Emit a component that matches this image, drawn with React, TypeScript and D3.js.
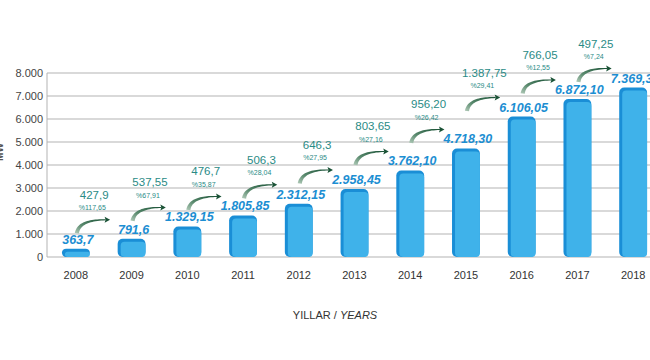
import React from "react";
import * as d3 from "d3";

const years = ["2008", "2009", "2010", "2011", "2012", "2013", "2014", "2015", "2016", "2017", "2018"];
const capacity = [363.7, 791.6, 1329.15, 1805.85, 2312.15, 2958.45, 3762.1, 4718.3, 6106.05, 6872.1, 7369.35];
const capacityLabels = ["363,7", "791,6", "1.329,15", "1.805,85", "2.312,15", "2.958,45", "3.762,10", "4.718,30", "6.106,05", "6.872,10", "7.369,35"];
const increaseLabels = ["427,9", "537,55", "476,7", "506,3", "646,3", "803,65", "956,20", "1.387,75", "766,05", "497,25"];
const percentLabels = ["%117,65", "%67,91", "%35,87", "%28,04", "%27,95", "%27,16", "%26,42", "%29,41", "%12,55", "%7,24"];
const yTicks = [0, 1000, 2000, 3000, 4000, 5000, 6000, 7000, 8000];
const tickLabels = ["0", "1.000", "2.000", "3.000", "4.000", "5.000", "6.000", "7.000", "8.000"];

const W = 650;
const H = 360;
const FONT = "'Liberation Sans', Arial, sans-serif";

function taperedArrow(sx: number, sy: number, ex: number, ey: number) {
  const cx = sx + 2;
  const cy = ey;
  const n = 24;
  const left: [number, number][] = [];
  const right: [number, number][] = [];
  for (let i = 0; i <= n; i++) {
    const t = i / n;
    const px = (1 - t) * (1 - t) * sx + 2 * (1 - t) * t * cx + t * t * ex;
    const py = (1 - t) * (1 - t) * sy + 2 * (1 - t) * t * cy + t * t * ey;
    const dx = 2 * (1 - t) * (cx - sx) + 2 * t * (ex - cx);
    const dy = 2 * (1 - t) * (cy - sy) + 2 * t * (ey - cy);
    const len = Math.hypot(dx, dy) || 1;
    const nx = -dy / len;
    const ny = dx / len;
    const w = (4.2 * (1 - t) + 1.0 * t) / 2;
    left.push([px + nx * w, py + ny * w]);
    right.push([px - nx * w, py - ny * w]);
  }
  const pts = left.concat(right.reverse());
  return "M" + pts.map((p) => p[0].toFixed(2) + "," + p[1].toFixed(2)).join("L") + "Z";
}

export default function App() {
  const x = d3.scaleBand<string>().domain(years).range([48, 661]).paddingInner(0.5).paddingOuter(0.25);
  const y = d3.scaleLinear().domain([0, 8000]).range([257, 73]);
  const bw = x.bandwidth();
  const cx = (yr: string) => (x(yr) as number) + bw / 2;

  return (
    <svg width={W} height={H} style={{ position: "absolute", left: 0, top: 0, background: "#fff" }}>
      <defs>
        <linearGradient id="arrowGrad" x1="0" y1="1" x2="1" y2="0">
          <stop offset="0" stopColor="#b3ccbb" />
          <stop offset="0.4" stopColor="#5a8a6e" />
          <stop offset="1" stopColor="#1a5236" />
        </linearGradient>
      </defs>
      <rect x={0} y={0} width={W} height={H} fill="#fff" />
      <text
        transform={`translate(3,152) rotate(-90)`}
        textAnchor="middle"
        fontFamily={FONT}
        fontSize={10}
        fontWeight="bold"
        fill="#555"
      >
        MW
      </text>
      {yTicks.map((t, i) => (
        <g key={t}>
          <line x1={47} x2={W} y1={y(t)} y2={y(t)} stroke="#b3b3b3" strokeWidth={1} />
          <text x={43} y={y(t) + 4} textAnchor="end" fontFamily={FONT} fontSize={11} fill="#444">
            {tickLabels[i]}
          </text>
        </g>
      ))}
      <line x1={47} x2={47} y1={y(8000)} y2={y(0)} stroke="#b3b3b3" strokeWidth={1} />
      {years.map((yr, i) => {
        const top = y(capacity[i]);
        const h = y(0) - top;
        const bx = x(yr) as number;
        const r = Math.min(5, h / 2);
        return (
          <g key={yr}>
            <rect x={bx} y={top} width={bw} height={h} rx={r} fill="#1a8ed6" />
            <rect x={bx + 3} y={top + 3} width={bw - 3} height={Math.max(0, h - 3)} rx={Math.min(4, (h - 3) / 2)} fill="#3fb2ea" />
            <text
              x={cx(yr) + 2}
              y={top - 5}
              textAnchor="middle"
              fontFamily={FONT}
              fontSize={12.5}
              fontWeight="bold"
              fontStyle="italic"
              fill="#1c8ed2"
            >
              {capacityLabels[i]}
            </text>
            <text x={cx(yr)} y={279} textAnchor="middle" fontFamily={FONT} fontSize={11} fill="#333">
              {yr}
            </text>
          </g>
        );
      })}
      {increaseLabels.map((lab, i) => {
        const prev = years[i];
        const cur = years[i + 1];
        const ex = cx(cur) - 26;
        const ey = y(capacity[i + 1]) - 19;
        const sx = cx(prev) + 1;
        const sy = ey + 13.5;
        const mx = (sx + ex) / 2 + 3;
        return (
          <g key={lab}>
            <path d={taperedArrow(sx, sy, ex, ey)} fill="url(#arrowGrad)" />
            <path d={`M${ex + 4.5},${ey} L${ex - 1},${ey - 3} L${ex},${ey} L${ex - 1},${ey + 3} Z`} fill="#1a5236" />
            <text x={mx} y={ey - 21} textAnchor="middle" fontFamily={FONT} fontSize={11.5} fill="#2a8b86">
              {lab}
            </text>
            <text x={mx - 2} y={ey - 9.5} textAnchor="middle" fontFamily={FONT} fontSize={7} fill="#2a8b86">
              {percentLabels[i]}
            </text>
          </g>
        );
      })}
      <text x={335} y={319} textAnchor="middle" fontFamily={FONT} fontSize={11} fill="#333">
        YILLAR / <tspan fontStyle="italic">YEARS</tspan>
      </text>
    </svg>
  );
}
